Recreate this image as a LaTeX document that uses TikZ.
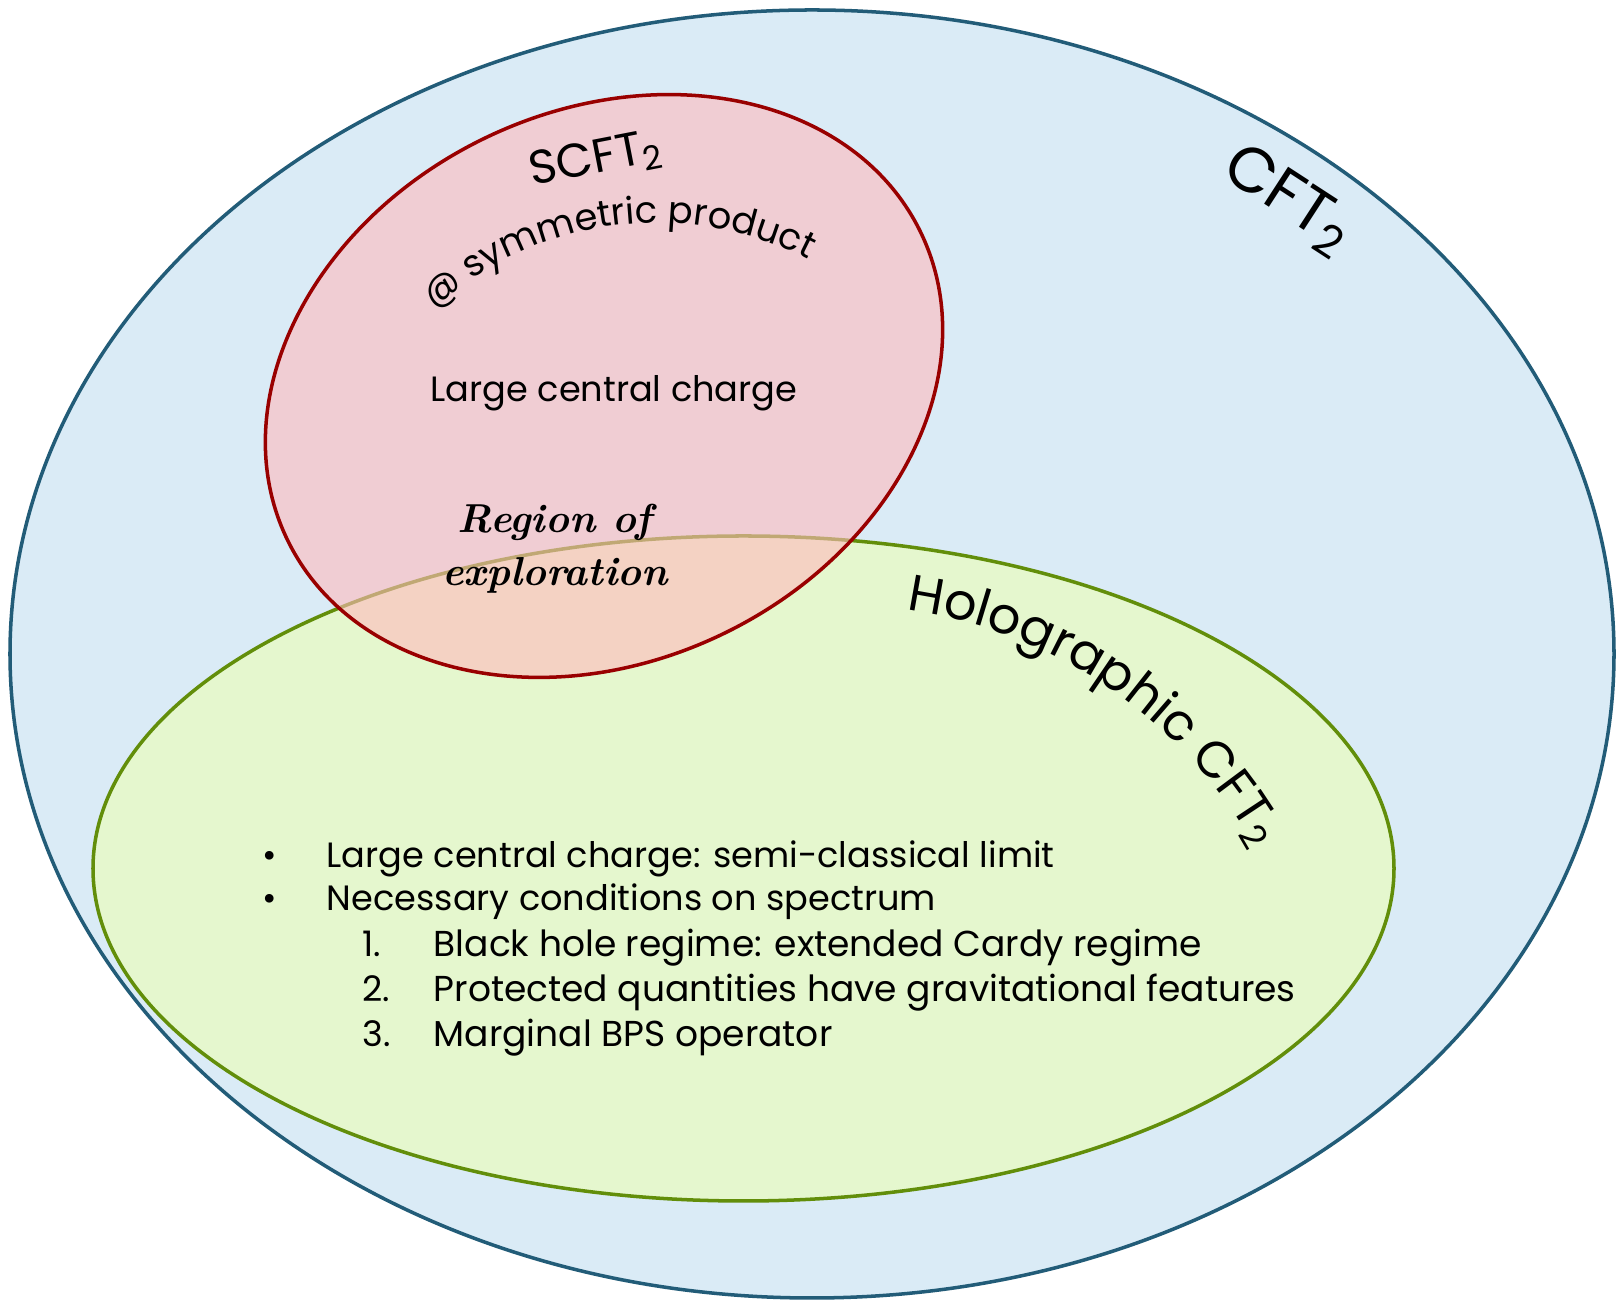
\documentclass[tikz,border=0pt]{standalone}
\usepackage{fontspec}
\usepackage{xcolor}
\usetikzlibrary{decorations.text}
\newfontfamily\gothic{Poppins}
\definecolor{cftblue}{RGB}{218,235,246}
\definecolor{cftline}{RGB}{34,92,120}
\definecolor{holgreen}{RGB}{229,247,206}
\definecolor{holline}{RGB}{98,142,10}
\definecolor{scftred}{RGB}{255,186,188}
\definecolor{scftline}{RGB}{153,0,0}

\begin{document}
\begin{tikzpicture}[
        setline/.style={line width=1pt},
        biglabel/.style={font=\gothic\fontsize{13.5}{16}\selectfont, inner sep=0pt},
        midlabel/.style={font=\gothic\fontsize{10}{12}\selectfont, inner sep=0pt},
        listline/.style={font=\gothic\fontsize{10}{12}\selectfont, anchor=base west, inner sep=0pt},
        hand/.style={font=\bfseries\itshape\fontsize{11.5}{15}\selectfont, align=center, inner sep=0pt}
    ]
        \useasboundingbox[fill=white] (0,0) rectangle (16.16,13.08);

        % All CFT2
        \draw[setline, draw=cftline, fill=cftblue] (8.12,6.54) ellipse [x radius=8.02, y radius=6.44];

        % Holographic CFT2
        \draw[setline, draw=holline, fill=holgreen] (7.435,4.395) ellipse [x radius=6.505, y radius=3.325];

        % SCFT2, see-through fill
        \draw[line width=1pt, draw=scftline, fill=scftred, fill opacity=0.6, rotate around={26:(6.04,9.22)}]
            (6.04,9.22) ellipse [x radius=3.52, y radius=2.75];

        % Set names
        \node[biglabel, font=\gothic\fontsize{18}{21}\selectfont, rotate=-33] (cft) at (12.88,11.08) {CFT\textsubscript{2}};
        \node[biglabel, rotate=11] (scft) at (5.96,11.48) {SCFT\textsubscript{2}};
        \path[decorate, decoration={text along path, text align=center,
            text={|\gothic\fontsize{10.5}{12}\selectfont|@ symmetric product}}]
            (6.57,7.55) ++(135:3.3) arc[start angle=135, end angle=60, radius=3.3];
        \path[decorate, decoration={text along path, text align=left,
            text={|\gothic\fontsize{14.5}{17}\selectfont|Holographic CFT{\textsubscript{2}}}}]
            (8.40,2.26) ++(82:4.77) arc[start angle=82, end angle=20, radius=4.77];

        % Inside SCFT2
        \node[midlabel, anchor=base] (largec) at (6.14,9.06) {Large central charge};
        \node[hand] (region) at (5.55,7.59) {Region of\\exploration};

        % Conditions
        \node[listline, anchor=base] (dot1) at (2.70,4.40) {•};
        \node[listline] (item1) at (3.26,4.40) {Large central charge: semi-classical limit};
        \node[listline, anchor=base] (dot2) at (2.70,3.97) {•};
        \node[listline] (item2) at (3.26,3.97) {Necessary conditions on spectrum};
        \node[listline] (num1) at (3.62,3.51) {1.};
        \node[listline, font=\gothic\fontsize{10.25}{12}\selectfont] (sub1) at (4.33,3.51) {Black hole regime: extended Cardy regime};
        \node[listline] (num2) at (3.62,3.06) {2.};
        \node[listline, font=\gothic\fontsize{10.25}{12}\selectfont] (sub2) at (4.33,3.06) {Protected quantities have gravitational features};
        \node[listline] (num3) at (3.62,2.61) {3.};
        \node[listline, font=\gothic\fontsize{10.25}{12}\selectfont] (sub3) at (4.33,2.61) {Marginal BPS operator};
    \end{tikzpicture}
\end{document}
